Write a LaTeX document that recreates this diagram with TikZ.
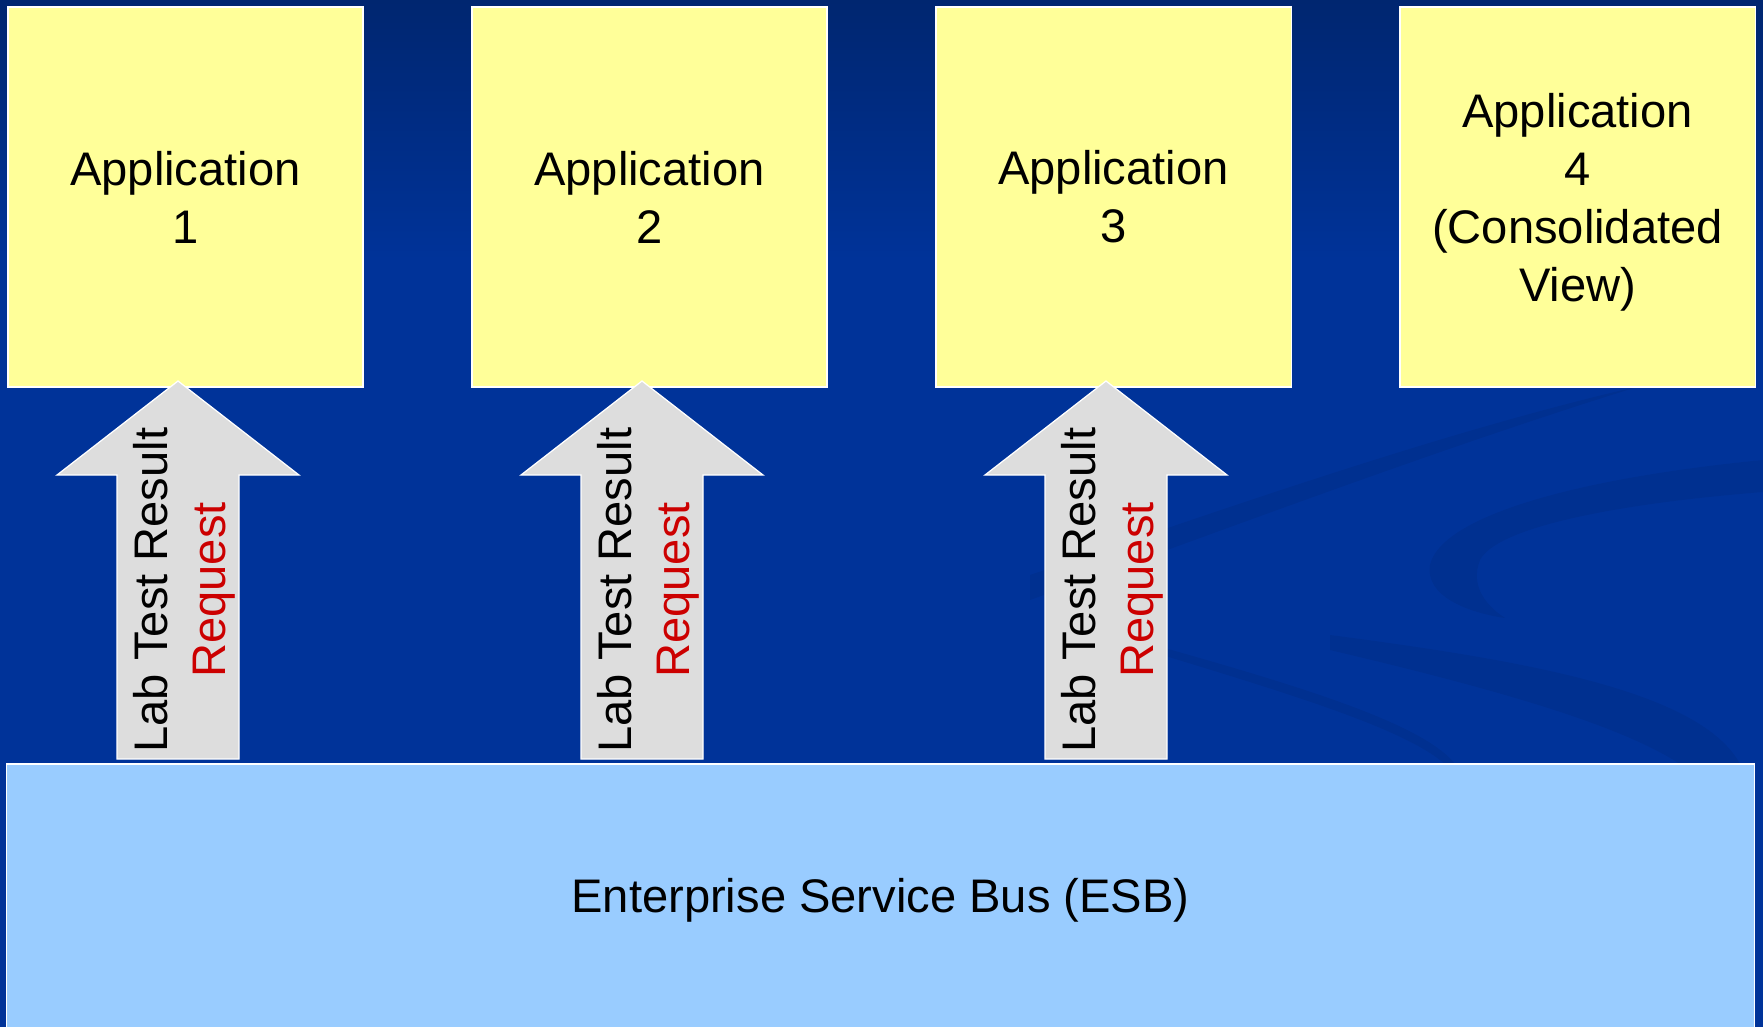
\documentclass[tikz,border=0pt]{standalone}
\usepackage{fontspec}
\setmainfont{Liberation Sans}
\definecolor{slideblue}{RGB}{0,51,153}
\definecolor{topnavy}{RGB}{0,38,112}
\definecolor{appyellow}{RGB}{255,255,153}
\definecolor{esbblue}{RGB}{153,204,255}
\definecolor{msggray}{RGB}{221,221,221}
\definecolor{reqred}{RGB}{204,0,0}
\newcommand{\slidefont}{\fontsize{13.4}{16.5}\selectfont}
\begin{document}
\begin{tikzpicture}[x=0.01cm, y=-0.01cm,
  appbox/.style={draw=white, line width=0.35pt, fill=appyellow, minimum width=3.55cm, minimum height=3.8cm, inner sep=0pt, align=center, font=\slidefont},
  esbbox/.style={draw=white, line width=0.35pt, fill=esbblue, minimum width=17.47cm, minimum height=2.72cm, inner sep=0pt, font=\slidefont},
  msgarrow/.style={draw=white, line width=0.35pt, fill=msggray},
  msglabel/.style={rotate=90, align=center, inner sep=0pt, font=\slidefont},
  swirl/.style={fill=black, fill opacity=0.06}]
\useasboundingbox (0,0) rectangle (1763,1027);
%background
\fill[slideblue] (0,0) rectangle (1763,1027);
\fill[top color=topnavy, bottom color=slideblue] (0,0) rectangle (1763,260);
%swirl in the background
\fill[swirl] (1030,575) .. controls (1250,500) and (1450,430) .. (1640,386) .. controls (1450,445) and (1250,520) .. (1030,600) -- cycle;
\fill[swirl] (1763,460) .. controls (1560,480) and (1440,520) .. (1430,565) .. controls (1425,595) and (1465,612) .. (1505,618) .. controls (1485,605) and (1470,585) .. (1480,560) .. controls (1495,530) and (1600,505) .. (1763,492) -- cycle;
\fill[swirl] (1100,630) .. controls (1280,680) and (1420,720) .. (1455,764) -- (1445,764) .. controls (1400,725) and (1270,688) .. (1100,636) -- cycle;
\fill[swirl] (1330,635) .. controls (1520,660) and (1700,690) .. (1740,764) -- (1680,764) .. controls (1620,725) and (1500,690) .. (1330,650) -- cycle;

%applications
\node[appbox] (app1) at (185.5,197) {Application\\1};
\node[appbox] (app2) at (649.5,197) {Application\\2};
\node[appbox] (app3) at (1113.5,197) {Application\\3};
\node[appbox, text depth=0pt] (app4) at (1577.5,197) {Application\\4\\(Consolidated\\View)};

%bus
\node[esbbox] (esb) at (880.5,900) {Enterprise Service Bus (ESB)};

%arrow tips and tails
\coordinate (tip1) at (178,381);
\coordinate (tip2) at (642,381);
\coordinate (tip3) at (1106,381);
\coordinate (tail1) at (178,759);
\coordinate (tail2) at (642,759);
\coordinate (tail3) at (1106,759);

%messages
\draw[msgarrow] (tail1) ++(-61,0) -- ++(0,-284) -- ++(-60,0) -- (tip1) -- ++(121,94) -- ++(-60,0) -- ++(0,284) -- cycle;
\draw[msgarrow] (tail2) ++(-61,0) -- ++(0,-284) -- ++(-60,0) -- (tip2) -- ++(121,94) -- ++(-60,0) -- ++(0,284) -- cycle;
\draw[msgarrow] (tail3) ++(-61,0) -- ++(0,-284) -- ++(-60,0) -- (tip3) -- ++(121,94) -- ++(-60,0) -- ++(0,284) -- cycle;
\node[msglabel] (msg1) at (184,590) {Lab Test Result\\\textcolor{reqred}{Request}};
\node[msglabel] (msg2) at (648,590) {Lab Test Result\\\textcolor{reqred}{Request}};
\node[msglabel] (msg3) at (1112,590) {Lab Test Result\\\textcolor{reqred}{Request}};
\end{tikzpicture}
\end{document}
